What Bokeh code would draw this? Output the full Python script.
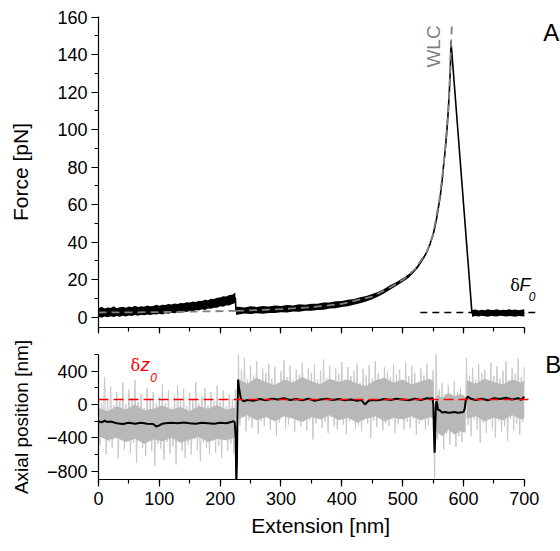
from math import pi
from bokeh.plotting import figure
from bokeh.layouts import column
from bokeh.models import Range1d, SingleIntervalTicker, Label, CustomLabelingPolicy
from bokeh.embed import file_html
from bokeh.resources import INLINE

FONT = "Liberation Sans"

# ---------------- Panel A : force vs extension ----------------
f1_x = [0, 5, 10, 15, 20, 25, 30, 35, 40, 45, 50, 55, 60, 65, 70, 75, 80, 85, 90, 95,
        100, 105, 110, 115, 120, 125, 130, 135, 140, 145, 150, 155, 160, 165, 170, 175,
        180, 185, 190, 195, 200, 205, 210, 215, 220, 225]
f1_hi = [4.8, 5.6, 4.6, 5.2, 4.9, 5.8, 4.8, 5.3, 5.6, 5.0,
         5.7, 5.3, 6.1, 5.5, 5.9, 5.6, 6.3, 5.8, 6.0, 6.6,
         6.1, 6.7, 6.5, 7.0, 6.8, 7.3, 7.0, 7.6, 7.4, 8.0,
         7.9, 8.4, 8.1, 8.8, 8.6, 9.3, 9.1, 9.8, 9.7, 10.4,
         10.5, 11.2, 11.0, 11.8, 12.0, 13.2]
f1_lo = [0.2, -0.3, 0.4, 0.0, 0.5, 0.1, 0.6, 0.3, 0.8, 0.4,
         0.9, 0.7, 1.2, 0.8, 1.3, 1.0, 1.5, 1.2, 1.6, 1.4,
         1.8, 1.5, 2.1, 1.9, 2.4, 2.1, 2.7, 2.4, 3.0, 2.8,
         3.4, 3.1, 3.8, 3.6, 4.2, 3.9, 4.6, 4.5, 5.1, 5.0,
         5.8, 5.6, 6.4, 6.3, 7.0, 7.6]

f2_x = [226, 230, 240, 250, 260, 270, 280, 290, 300, 310, 320, 330, 340, 350, 360, 370,
        380, 390, 400, 410, 420, 430, 440, 450, 460, 470, 480, 490, 500, 510,
        518, 525, 530, 535, 540, 545, 550, 553, 556, 559, 562, 565, 567, 569, 571, 573,
        575, 577, 578.5, 579.5]
f2_hi = [5.4, 5.6, 5.2, 5.8, 5.5, 6.0, 5.7, 6.3, 6.0, 6.5, 6.3, 6.9, 6.7, 7.2, 7.2, 7.8,
         7.9, 8.5, 8.6, 9.3, 9.7, 10.6, 11.3, 12.4, 13.6, 15.2, 17.2, 18.8, 20.8, 22.9,
         25.3, 27.7, 30.1, 32.6, 35.5, 39.5, 44.5, 48.5, 53.5, 59.5, 65.5, 73.5, 80.5,
         86.5, 93.5, 101.5, 110.5, 122.5, 133.5, 147.5]
f2_lo = [1.2, 1.5, 2.0, 1.7, 2.1, 1.9, 2.3, 2.2, 2.6, 2.5, 3.0, 2.9, 3.4, 3.4, 3.9, 4.0,
         4.6, 4.8, 5.5, 5.9, 6.6, 7.4, 8.4, 9.6, 11.0, 12.8, 14.8, 16.8, 18.8, 21.1,
         23.7, 26.3, 28.9, 31.4, 34.5, 38.5, 43.5, 47.5, 52.5, 58.5, 64.5, 72.5, 79.5,
         85.5, 92.5, 100.5, 109.5, 121.5, 132.5, 146.5]

f3_x = [614, 620, 625, 630, 635, 640, 645, 650, 655, 660, 665, 670, 675, 680, 685, 690, 695, 700]
f3_hi = [3.8, 4.1, 3.6, 4.0, 3.7, 4.2, 3.8, 3.9, 4.3, 3.7, 4.0, 3.8, 4.2, 3.9, 4.1, 3.7, 4.0, 4.2]
f3_lo = [0.3, 0.6, 0.4, 0.8, 0.5, 0.3, 0.7, 0.5, 0.4, 0.8, 0.6, 0.4, 0.7, 0.5, 0.3, 0.6, 0.5, 0.4]

wlc1_x = [0, 60, 120, 180, 226]
wlc1_f = [2.5, 2.6, 2.8, 3.1, 3.4]
wlc2_x = [226, 260, 300, 350, 400, 450, 480, 500, 520, 540, 550, 560, 567, 572, 576, 579, 581]
wlc2_f = [3.4, 3.8, 4.3, 5.3, 7.1, 11.0, 16.0, 19.8, 25.5, 35, 44, 62, 80, 97, 115, 140, 157]

df0_x = [529, 721]
df0_f = [2.5, 2.5]

# ---------------- Panel B : axial position ----------------
axial_hi_x = list(range(0, 701, 5))
axial_hi = [120, 20, 330, 60, 210, -10, 150, 40, 260, 0,
            180, 80, 290, 30, 130, -40, 200, 70, 150, 10,
            90, 240, 20, 170, -30, 110, 230, 50, 190, -20,
            140, 60, 270, 10, 100, 200, -10, 150, 40, 230,
            30, 170, -20, 120, 60, 180,
            650, 420, 560, 300, 470, 350, 520, 280, 430, 380,
            490, 310, 450, 260, 400, 530, 330, 470, 290, 420,
            360, 500, 270, 440, 380, 480, 300, 410, 540, 320,
            460, 280, 430, 370, 510, 300, 450, 340, 400, 490,
            260, 430, 350, 470, 310, 520, 380, 290, 450, 400,
            330, 480, 360, 420, 290, 500, 340, 460, 380, 270,
            440, 350, 490, 300, 410,
            650, 180, 260, 120, 230, 90, 280, 150, 200, 110,
            560, 350, 440, 300, 480, 380, 420, 280, 500, 340,
            460, 310, 400, 520, 290, 430, 370, 550, 330, 450]
axial_lo_x = [x + 2.5 for x in range(0, 700, 5)]
axial_lo = [-480, -380, -600, -450, -520, -360, -650, -430, -540, -400,
            -580, -460, -700, -420, -520, -620, -440, -560, -740, -470,
            -530, -660, -450, -590, -500, -720, -430, -560, -640, -480,
            -600, -410, -550, -680, -460, -520, -600, -440, -580, -500,
            -640, -420, -560, -470, -590,
            -1000,
            -250, -120, -320, -180, -280, -100, -350, -200, -260, -150,
            -300, -170, -380, -220, -130, -290, -240, -160, -330, -200,
            -270, -140, -310, -190, -420, -230, -170, -280, -210, -340,
            -150, -260, -300, -180, -240, -360, -200, -130, -290, -250,
            -320, -170, -230, -400, -190, -270, -150, -310, -220, -260,
            -180, -340, -240, -130, -300, -210, -280, -170, -360, -230,
            -190, -300, -250, -160,
            -1000,
            -420, -300, -540, -350, -480, -280, -510, -380, -450, -330,
            -250, -380, -180, -300, -460, -220, -340, -160, -290, -400,
            -200, -330, -260, -440, -170, -310, -230, -360, -210]

# dense core of the raw (grey) trace, per segment
core1_x = [0, 15, 30, 45, 60, 75, 90, 105, 120, 135, 150, 165, 180, 195, 210, 225]
core1_lo = [-380, -430, -400, -450, -410, -470, -420, -440, -400, -460, -420, -390, -450, -410, -430, -400]
core1_hi = [-40, -80, -20, -60, 0, -70, -50, -10, -60, -30, -80, -20, -50, -10, -60, -40]
core2_x = [231, 245, 260, 275, 290, 305, 320, 335, 350, 365, 380, 395, 410, 425, 440, 455,
           470, 485, 500, 515, 530, 545, 551]
core2_lo = [-170, -130, -190, -150, -200, -140, -170, -210, -150, -180, -130, -190, -160, -220,
            -170, -140, -200, -160, -180, -140, -190, -150, -170]
core2_hi = [300, 250, 320, 270, 230, 300, 260, 330, 280, 240, 310, 270, 300, 250, 220, 290,
            320, 260, 300, 240, 280, 310, 270]
core3_x = [556, 565, 575, 585, 595, 603]
core3_lo = [-330, -380, -300, -360, -320, -340]
core3_hi = [120, 80, 140, 100, 130, 90]
core4_x = [605, 620, 635, 650, 665, 680, 695, 700]
core4_lo = [-170, -140, -200, -160, -190, -130, -180, -160]
core4_hi = [290, 250, 310, 270, 240, 300, 260, 290]

axial_mean = [(0, -200), (5, -215), (10, -195), (15, -210), (20, -205), (30, -225), (40, -235),
              (50, -220), (60, -230), (70, -220), (80, -230), (90, -235), (95, -265), (100, -250),
              (105, -230), (110, -225), (120, -220), (130, -225), (140, -215), (150, -225),
              (160, -230), (170, -220), (180, -225), (190, -230), (200, -220), (210, -225),
              (218, -210), (222, -200), (224, -215), (225.5, -400), (226.5, -950), (227.5, -700),
              (228.5, -100), (229.5, 300), (231, 200), (234, 70), (238, 40), (245, 55), (255, 45),
              (265, 65), (275, 50), (285, 70), (295, 60), (305, 75), (315, 55), (325, 65), (335, 50),
              (345, 70), (355, 45), (365, 60), (375, 70), (385, 55), (395, 65), (405, 50), (415, 60),
              (425, 45), (432, 55), (438, 0), (444, 45), (450, 55), (460, 50), (470, 65), (480, 55),
              (490, 70), (500, 60), (510, 50), (520, 70), (530, 55), (540, 75), (546, 70), (549, 80),
              (550.5, 0), (551.5, -350), (552.5, -580), (553.5, -400), (554.5, -50), (555.5, 40),
              (556.5, 20), (558, -60), (561, -70), (565, -95), (570, -90), (575, -100), (580, -95),
              (585, -90), (590, -100), (595, -95), (600, -90), (602, -50), (604, 60), (607, 95),
              (612, 70), (620, 55), (630, 70), (640, 50), (650, 75), (660, 65), (670, 80), (680, 60),
              (690, 75), (695, 55), (700, 95)]

dz0_x = [0, 713]
dz0_y = [60, 60]

# ---------------- figures ----------------
XEND = 759.5


def style(p):
    p.outline_line_color = None
    p.xgrid.visible = False
    p.ygrid.visible = False
    p.background_fill_color = "white"
    p.border_fill_color = "white"
    for ax in (p.xaxis[0], p.yaxis[0]):
        ax.axis_line_color = "black"
        ax.axis_line_width = 1.2
        ax.major_tick_line_color = "black"
        ax.minor_tick_line_color = "black"
        ax.major_tick_line_width = 1.2
        ax.minor_tick_line_width = 1.2
        ax.major_tick_in = 0
        ax.major_tick_out = 7
        ax.minor_tick_in = 0
        ax.minor_tick_out = 4
        ax.major_label_text_font = FONT
        ax.major_label_text_font_size = "18px"
        ax.major_label_text_color = "black"
        ax.axis_label_text_font = FONT
        ax.axis_label_text_font_size = "21px"
        ax.axis_label_text_font_style = "normal"
        ax.axis_label_text_color = "black"


p1 = figure(frame_width=462, frame_height=311, x_range=Range1d(0, XEND),
            y_range=Range1d(-5.5, 160.4), output_backend="svg", toolbar_location=None,
            min_border_left=98, min_border_right=0, min_border_top=16, min_border_bottom=8)
style(p1)
p1.xaxis.ticker = SingleIntervalTicker(interval=100, num_minor_ticks=2)
p1.xaxis.bounds = (0, 700)
p1.xaxis.major_tick_out = 6
p1.xaxis.major_label_text_font_size = "1px"
p1.xaxis.major_label_standoff = 0
p1.xaxis.major_label_policy = CustomLabelingPolicy(code="""
    for (const i of indices)
        indices.unset(i)
    return indices
""")
p1.yaxis.ticker = SingleIntervalTicker(interval=20, num_minor_ticks=2)
p1.yaxis.major_label_standoff = 4
p1.yaxis.axis_label = "Force [pN]"
p1.yaxis.axis_label_standoff = 22

for xs, lo, hi in ((f1_x, f1_lo, f1_hi), (f2_x, f2_lo, f2_hi), (f3_x, f3_lo, f3_hi)):
    p1.varea(x=xs, y1=lo, y2=hi, fill_color="black")

mid_x = f1_x + f2_x + f3_x
mid_f = [(a + b) / 2 for a, b in zip(f1_lo + f2_lo + f3_lo, f1_hi + f2_hi + f3_hi)]
p1.line(mid_x, mid_f, line_color="black", line_width=1.6)

p1.line(wlc1_x, wlc1_f, line_color="#808080", line_width=1.8, line_dash="8 5")
p1.line(wlc2_x, wlc2_f, line_color="#808080", line_width=1.8, line_dash="8 5")
p1.line(df0_x, df0_f, line_color="black", line_width=1.5, line_dash="7 5")

p1.add_layout(Label(x=550.8, y=144.4, text="WLC", angle=pi / 2, text_align="center",
                    text_baseline="middle", text_color="#7f7f7f", text_font=FONT,
                    text_font_size="19px"))
p1.add_layout(Label(x=677.0, y=11.6, text="δ", text_font="DejaVu Serif", text_font_size="16px",
                    text_color="black"))
p1.add_layout(Label(x=692.0, y=11.6, text="F", text_font=FONT, text_font_style="italic",
                    text_font_size="18px", text_color="black"))
p1.add_layout(Label(x=707.5, y=8.6, text="0", text_font=FONT, text_font_style="italic",
                    text_font_size="12px", text_color="black"))
p1.add_layout(Label(x=731, y=144.9, text="A", text_font=FONT, text_font_size="24px",
                    text_color="black"))

p2 = figure(frame_width=462, frame_height=125, x_range=Range1d(0, XEND),
            y_range=Range1d(-900, 600), output_backend="svg", toolbar_location=None,
            min_border_left=98, min_border_right=0, min_border_top=17, min_border_bottom=60)
style(p2)
p2.xaxis.ticker = SingleIntervalTicker(interval=100, num_minor_ticks=2)
p2.xaxis.bounds = (0, 700)
p2.xaxis.major_label_standoff = 5
p2.xaxis.axis_label = "Extension [nm]\u00a0\u00a0\u00a0"
p2.xaxis.axis_label_standoff = 6
p2.yaxis.ticker = SingleIntervalTicker(interval=400, num_minor_ticks=2)
p2.yaxis.major_label_standoff = 4
p2.yaxis.axis_label = "Axial position [nm]"
p2.yaxis.axis_label_text_font_size = "19px"
p2.yaxis.axis_label_standoff = 12

zx, zy = [], []
for i in range(len(axial_hi)):
    zx.append(axial_hi_x[i])
    zy.append(axial_hi[i])
    if i < len(axial_lo):
        zx.append(axial_lo_x[i])
        zy.append(axial_lo[i])
p2.line(zx, zy, line_color="#c8c8c8", line_width=1)

for xs, lo, hi in ((core1_x, core1_lo, core1_hi), (core2_x, core2_lo, core2_hi),
                   (core3_x, core3_lo, core3_hi), (core4_x, core4_lo, core4_hi)):
    p2.varea(x=xs, y1=lo, y2=hi, fill_color="#b8b8b8")

p2.line([m[0] for m in axial_mean], [m[1] for m in axial_mean], line_color="black", line_width=2)
p2.line(dz0_x, dz0_y, line_color="#ff0000", line_width=1.6, line_dash="10 5")

p2.add_layout(Label(x=52.6, y=360, text="δ", text_font="DejaVu Serif", text_font_size="16px",
                    text_color="#ff0000"))
p2.add_layout(Label(x=69.0, y=360, text="z", text_font=FONT, text_font_style="italic",
                    text_font_size="19px", text_color="#ff0000"))
p2.add_layout(Label(x=85.0, y=270, text="0", text_font=FONT, text_font_style="italic",
                    text_font_size="12px", text_color="#ff0000"))
p2.add_layout(Label(x=734.5, y=324, text="B", text_font=FONT, text_font_size="24px",
                    text_color="black"))

layout = column(p1, p2)
open("out.html", "w").write(file_html(layout, INLINE))
